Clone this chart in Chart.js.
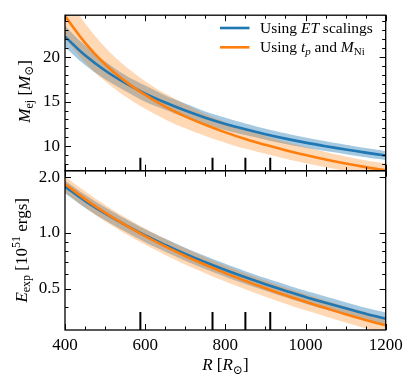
<!DOCTYPE html>
<html><head><meta charset="utf-8">
<script src="https://cdn.jsdelivr.net/npm/chart.js@4.4.1/dist/chart.umd.min.js"></script>
<style>
html,body{margin:0;padding:0;background:#fff;}
#wrap{position:relative;width:416px;height:388px;background:#fff;}
canvas{position:absolute;left:0;top:0;}
</style>
</head><body>
<div id="wrap"><canvas id="c1" width="416" height="388"></canvas><canvas id="c2" width="416" height="388"></canvas></div>
<script>
// ---------------- data ----------------
const radius = [400,450,500,550,600,650,700,750,800,850,900,950,1000,1050,1100,1150,1200];

// Ejecta mass [Msun]
const massET   = [22.3,20.2,18.5,17.1,15.9,14.9,14.0,13.2,12.5,11.9,11.35,10.85,10.4,10.0,9.63,9.28,8.95];
const massETHi = [23.5,21.3,19.5,18.0,16.8,15.7,14.8,13.9,13.2,12.55,11.97,11.45,10.97,10.55,10.16,9.79,9.44];
const massETLo = [21.1,19.1,17.5,16.2,15.0,14.1,13.2,12.5,11.8,11.25,10.73,10.25,9.83,9.45,9.1,8.77,8.46];
const massTp   = [24.6,21.6,19.2,17.3,15.75,14.45,13.35,12.4,11.55,10.8,10.15,9.55,9.0,8.5,8.05,7.65,7.3];
const massTpHi = [27.1,23.8,21.1,19.0,17.3,15.9,14.7,13.6,12.7,11.9,11.15,10.5,9.9,9.35,8.85,8.4,8.05];
const massTpLo = [22.1,19.4,17.3,15.6,14.2,13.0,12.0,11.15,10.4,9.7,9.15,8.6,8.1,7.65,7.25,6.9,6.55];

// Explosion energy [1e51 erg]
const energyET   = [1.78,1.49,1.275,1.106,0.97,0.862,0.771,0.696,0.632,0.577,0.530,0.489,0.452,0.421,0.393,0.367,0.345];
const energyETHi = [1.92,1.61,1.377,1.194,1.048,0.931,0.833,0.752,0.683,0.623,0.572,0.528,0.488,0.455,0.424,0.396,0.373];
const energyETLo = [1.64,1.37,1.173,1.018,0.892,0.793,0.709,0.640,0.581,0.531,0.488,0.450,0.416,0.387,0.362,0.338,0.317];
const energyTp   = [1.84,1.524,1.288,1.106,0.962,0.847,0.752,0.674,0.608,0.552,0.504,0.462,0.426,0.394,0.365,0.340,0.318];
const energyTpHi = [2.02,1.68,1.417,1.217,1.058,0.932,0.827,0.741,0.669,0.607,0.554,0.508,0.469,0.433,0.402,0.374,0.350];
const energyTpLo = [1.66,1.37,1.159,0.995,0.866,0.762,0.677,0.607,0.547,0.497,0.454,0.416,0.383,0.355,0.329,0.306,0.286];

// marked radii (short vertical bars)
const markRadii = [588,768,850,912];
const markTopMass = 8.7;
const markTopEnergy = 0.375;

// ticks
const xTicks = [400,600,800,1000,1200];
const xMinorTicks = [450,500,550,650,700,750,850,900,950,1050,1100,1150];
const massTicks = [10,15,20];
const massMinorTicks = [8,9,11,12,13,14,16,17,18,19,21,22,23,24];
const energyTicks = [0.5,1.0,2.0];
const energyMinorTicks = [0.4,0.6,0.7,0.8,0.9];

const xRange = [400,1200];
const massRange = [7.25,24.7];
const energyRange = [0.3087,2.168];

// ---------------- styling / layout ----------------
const BLUE = '#1f77b4', ORANGE = '#ff7f0e';
const BLUE_FILL = 'rgba(31,119,180,0.4)', ORANGE_FILL = 'rgba(255,127,14,0.3)';
const FAMILY = '"Liberation Serif", "DejaVu Serif", serif';
const W = 416, H = 388;
const LEFT = 65, RIGHT = 385.7, TOP1 = 12, MID = 170.7, BOT2 = 330;

function pts(ys){ return radius.map((r,i)=>({x:r,y:ys[i]})); }
function markPts(yBottom, yTop){
  const out = [];
  markRadii.forEach(r=>{ out.push({x:r,y:yBottom}); out.push({x:r,y:yTop}); out.push({x:r,y:null}); });
  return out;
}

function datasets(c1,h1,l1,c2,h2,l2,markBottom,markTop){
  const base = {pointRadius:0, pointHoverRadius:0, clip:0, tension:0.35, spanGaps:false};
  return [
    Object.assign({}, base, {label:'tp', data:pts(c2), borderColor:ORANGE, borderWidth:2.6, fill:false, order:0}),
    Object.assign({}, base, {label:'ET', data:pts(c1), borderColor:BLUE, borderWidth:2.6, fill:false, order:1}),
    Object.assign({}, base, {label:'tpHi', data:pts(h2), borderWidth:0, borderColor:'transparent', backgroundColor:ORANGE_FILL, fill:3, order:2}),
    Object.assign({}, base, {label:'tpLo', data:pts(l2), borderWidth:0, borderColor:'transparent', fill:false, order:4}),
    Object.assign({}, base, {label:'ETHi', data:pts(h1), borderWidth:0, borderColor:'transparent', backgroundColor:BLUE_FILL, fill:5, order:3}),
    Object.assign({}, base, {label:'ETLo', data:pts(l1), borderWidth:0, borderColor:'transparent', fill:false, order:5}),
    {label:'marks', data:markPts(markBottom,markTop), borderColor:'#000', borderWidth:2, pointRadius:0, fill:false, order:-1, spanGaps:false, tension:0, borderCapStyle:'butt'}
  ];
}

function drawRich(ctx, parts, x, y, size, align, rot){
  const fontFor = p => `${p.it?'italic ':''}${(p.sub||p.sup)?Math.round(size*0.7):size}px ${FAMILY}`;
  let w = 0;
  parts.forEach(p=>{ ctx.font = fontFor(p); p.w = ctx.measureText(p.t).width; w += p.w; });
  ctx.save();
  ctx.translate(x,y);
  if (rot) ctx.rotate(rot);
  ctx.fillStyle = '#000'; ctx.textAlign = 'left'; ctx.textBaseline = 'alphabetic';
  let cx = align === 'left' ? 0 : -w/2;
  parts.forEach(p=>{
    ctx.font = fontFor(p);
    const dy = p.sub ? size*0.22 : (p.sup ? -size*0.38 : 0);
    ctx.fillText(p.t, cx, dy);
    cx += p.w;
  });
  ctx.restore();
}

function frameTicksPlugin(yMajor, yMinor){
  return {
    id:'frameTicks',
    afterDatasetsDraw(chart){
      const ctx = chart.ctx, a = chart.chartArea;
      const xs = chart.scales.x, ys = chart.scales.y;
      ctx.save();
      ctx.strokeStyle = '#000';
      ctx.lineWidth = 1;
      const tick = (x1,y1,x2,y2)=>{ ctx.beginPath(); ctx.moveTo(x1,y1); ctx.lineTo(x2,y2); ctx.stroke(); };
      const xt = (vals,len)=>vals.forEach(v=>{ const p = Math.round(xs.getPixelForValue(v))+0.5; tick(p,a.bottom,p,a.bottom-len); tick(p,a.top,p,a.top+len); });
      const yt = (vals,len)=>vals.forEach(v=>{ const p = Math.round(ys.getPixelForValue(v))+0.5; tick(a.left,p,a.left+len,p); tick(a.right,p,a.right-len,p); });
      xt(xTicks,6); xt(xMinorTicks,3.5);
      yt(yMajor,6); yt(yMinor,3.5);
      ctx.lineWidth = 1.3;
      ctx.strokeRect(a.left, a.top, a.right-a.left, a.bottom-a.top);
      ctx.restore();
    }
  };
}

const tickFont = {family:FAMILY, size:17};

// ---------------- top chart ----------------
new Chart(document.getElementById('c1'), {
  type:'line',
  data:{datasets:datasets(massET,massETHi,massETLo,massTp,massTpHi,massTpLo,massRange[0]-1,markTopMass)},
  options:{
    responsive:false, animation:false, devicePixelRatio:1,
    layout:{padding:{left:0, top:TOP1, right:W-RIGHT, bottom:H-MID}},
    plugins:{legend:{display:false}, tooltip:{enabled:false}},
    scales:{
      x:{type:'linear', display:false, min:xRange[0], max:xRange[1]},
      y:{type:'linear', min:massRange[0], max:massRange[1],
         afterFit:s=>{s.width=LEFT;},
         afterBuildTicks:s=>{s.ticks=massTicks.map(v=>({value:v}));},
         grid:{display:false, drawTicks:false}, border:{display:false},
         ticks:{font:tickFont, color:'#000', padding:5, callback:v=>String(v)}}
    }
  },
  plugins:[frameTicksPlugin(massTicks,massMinorTicks), {
    id:'annot1',
    afterDraw(chart){
      const ctx = chart.ctx;
      // y title
      drawRich(ctx,[{t:'M',it:true},{t:'ej',sub:true},{t:' ['},{t:'M',it:true},{t:'⊙',sub:true},{t:']'}], 29.5, (TOP1+MID)/2, 17, 'center', -Math.PI/2);
      // legend
      ctx.save();
      ctx.lineWidth = 2.6;
      ctx.strokeStyle = BLUE; ctx.beginPath(); ctx.moveTo(220,28); ctx.lineTo(249.5,28); ctx.stroke();
      ctx.strokeStyle = ORANGE; ctx.beginPath(); ctx.moveTo(220,47.3); ctx.lineTo(249.5,47.3); ctx.stroke();
      ctx.restore();
      drawRich(ctx,[{t:'Using '},{t:'ET',it:true},{t:' scalings'}], 260, 32.5, 15.5, 'left');
      drawRich(ctx,[{t:'Using '},{t:'t',it:true},{t:'p',it:true,sub:true},{t:' and '},{t:'M',it:true},{t:'Ni',sub:true}], 260, 51.5, 15.5, 'left');
    }
  }]
});

// ---------------- bottom chart ----------------
new Chart(document.getElementById('c2'), {
  type:'line',
  data:{datasets:datasets(energyET,energyETHi,energyETLo,energyTp,energyTpHi,energyTpLo,energyRange[0]*0.8,markTopEnergy)},
  options:{
    responsive:false, animation:false, devicePixelRatio:1,
    layout:{padding:{left:0, top:MID, right:W-RIGHT, bottom:0}},
    plugins:{legend:{display:false}, tooltip:{enabled:false}},
    scales:{
      x:{type:'linear', min:xRange[0], max:xRange[1],
         afterFit:s=>{s.height=H-BOT2;},
         afterBuildTicks:s=>{s.ticks=xTicks.map(v=>({value:v}));},
         grid:{display:false, drawTicks:false}, border:{display:false},
         ticks:{font:tickFont, color:'#000', padding:5, maxRotation:0, autoSkip:false, callback:v=>String(v)}},
      y:{type:'logarithmic', min:energyRange[0], max:energyRange[1],
         afterFit:s=>{s.width=LEFT;},
         afterBuildTicks:s=>{s.ticks=energyTicks.map(v=>({value:v}));},
         grid:{display:false, drawTicks:false}, border:{display:false},
         ticks:{font:tickFont, color:'#000', padding:5, callback:v=>Number(v).toFixed(1)}}
    }
  },
  plugins:[frameTicksPlugin(energyTicks,energyMinorTicks), {
    id:'annot2',
    afterDraw(chart){
      const ctx = chart.ctx;
      drawRich(ctx,[{t:'E',it:true},{t:'exp',sub:true},{t:' [10'},{t:'51',sup:true},{t:' ergs]'}], 26.5, (MID+BOT2)/2, 17, 'center', -Math.PI/2);
      drawRich(ctx,[{t:'R',it:true},{t:' ['},{t:'R',it:true},{t:'⊙',sub:true},{t:']'}], (LEFT+RIGHT)/2, 370, 17, 'center');
    }
  }]
});
</script>
</body></html>
